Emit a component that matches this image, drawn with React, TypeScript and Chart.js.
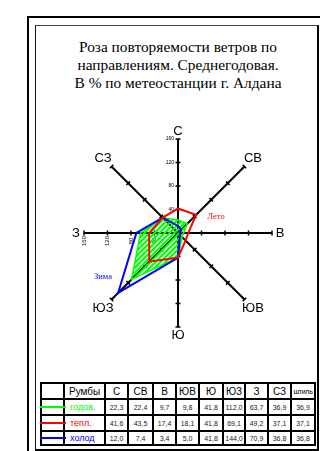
import React, { useEffect, useRef } from 'react';
import { Chart, registerables } from 'chart.js';

Chart.register(...registerables);

// ---- data ----
const directions = ['С', 'СВ', 'В', 'ЮВ', 'Ю', 'ЮЗ', 'З', 'СЗ'];
const yearly = [22.3, 22.4, 9.7, 9.8, 41.8, 112.0, 63.7, 36.9];
const warm = [41.6, 43.5, 17.4, 18.1, 41.8, 69.1, 49.2, 37.1];
const cold = [12.0, 7.4, 3.4, 5.0, 41.8, 144.0, 70.9, 36.8];
const calm = [36.9, 37.1, 36.8];
const seriesNames = ['годов.', 'тепл.', 'холод'];
const tickValues = [40, 80, 120, 160];
const titleLines = [
  'Роза повторяемости ветров по',
  'направлениям. Среднегодовая.',
  'В % по метеостанции г. Алдана',
];

// ---- styles ----
const GREEN = '#00ff00';
const RED = '#ff0000';
const BLUE = '#0000ff';
const seriesColors = [GREEN, RED, BLUE];
const SANS = '"Liberation Sans", Arial, sans-serif';
const SERIF = '"Liberation Serif", "Times New Roman", serif';

const colX = [40, 63, 104, 127, 152, 175, 198, 222, 244, 267, 290, 314];
const rowY = [382, 398, 414, 430, 444];

const fmt = (v: number) => v.toFixed(1).replace('.', ',');

function makeHatch(ctx: CanvasRenderingContext2D): CanvasPattern | string {
  const c = document.createElement('canvas');
  const n = 5;
  c.width = n;
  c.height = n;
  const g = c.getContext('2d');
  if (!g) return GREEN;
  g.fillStyle = GREEN;
  g.fillRect(0, 0, n, n);
  g.globalCompositeOperation = 'destination-out';
  g.strokeStyle = '#000';
  g.lineWidth = 1.3;
  g.beginPath();
  g.moveTo(-1, n + 1);
  g.lineTo(n + 1, -1);
  g.moveTo(-1, 1);
  g.lineTo(1, -1);
  g.moveTo(n - 1, n + 1);
  g.lineTo(n + 1, n - 1);
  g.stroke();
  return ctx.createPattern(c, 'repeat') || GREEN;
}

const roseDecor = {
  id: 'roseDecor',
  beforeDatasetsDraw(chart: any) {
    const s = chart.scales.r;
    const ctx: CanvasRenderingContext2D = chart.ctx;
    ctx.save();
    ctx.strokeStyle = '#000';
    ctx.lineCap = 'butt';
    for (let i = 0; i < directions.length; i++) {
      const end = s.getPointPositionForValue(i, s.max);
      ctx.lineWidth = 2;
      ctx.beginPath();
      ctx.moveTo(s.xCenter, s.yCenter);
      ctx.lineTo(end.x, end.y);
      ctx.stroke();
      ctx.lineWidth = 1.5;
      for (const v of tickValues) {
        const p = s.getPointPositionForValue(i, v);
        const px = -Math.sin(p.angle);
        const py = Math.cos(p.angle);
        ctx.beginPath();
        ctx.moveTo(p.x - px * 2.5, p.y - py * 2.5);
        ctx.lineTo(p.x + px * 2.5, p.y + py * 2.5);
        ctx.stroke();
      }
    }
    // tick labels on north axis (horizontal) and west axis (rotated)
    ctx.fillStyle = '#000';
    ctx.font = `5px ${SANS}`;
    for (const v of tickValues) {
      const p = s.getPointPositionForValue(0, v);
      ctx.textAlign = 'right';
      ctx.textBaseline = 'middle';
      ctx.fillText(String(v), p.x - 4, p.y);
    }
    ctx.font = `6px ${SANS}`;
    for (const v of tickValues) {
      const p = s.getPointPositionForValue(6, v);
      ctx.save();
      ctx.translate(p.x, p.y + 8);
      ctx.rotate(-Math.PI / 2);
      ctx.textAlign = 'center';
      ctx.textBaseline = 'middle';
      ctx.fillText(String(v), 0, 0);
      ctx.restore();
    }
    ctx.restore();
  },
  afterDraw(chart: any) {
    const s = chart.scales.r;
    const ctx: CanvasRenderingContext2D = chart.ctx;
    ctx.save();
    ctx.fillStyle = '#000';
    ctx.font = `13px ${SANS}`;
    ctx.textAlign = 'center';
    ctx.textBaseline = 'middle';
    directions.forEach((d, i) => {
      const p = s.getPointPosition(i, s.drawingArea + (i % 2 === 0 ? 8 : 12));
      ctx.fillText(d, p.x, p.y);
    });
    ctx.font = `8.5px ${SERIF}`;
    ctx.fillStyle = RED;
    ctx.fillText('Лето', s.xCenter + 38, s.yCenter - 16);
    ctx.fillStyle = BLUE;
    ctx.fillText('Зима', s.xCenter - 75, s.yCenter + 44);
    ctx.restore();
  },
};

export default function App() {
  const ref = useRef<HTMLCanvasElement>(null);

  useEffect(() => {
    const canvas = ref.current;
    if (!canvas) return;
    const ctx = canvas.getContext('2d');
    if (!ctx) return;
    const hatch = makeHatch(ctx);
    const chart = new Chart(ctx, {
      type: 'radar',
      data: {
        labels: directions,
        datasets: [
          {
            label: seriesNames[0],
            data: yearly,
            borderColor: GREEN,
            borderWidth: 1.5,
            backgroundColor: hatch as any,
            fill: true,
            pointRadius: 0,
            order: 3,
          },
          {
            label: seriesNames[1],
            data: warm,
            borderColor: RED,
            borderWidth: 2,
            backgroundColor: 'transparent',
            fill: false,
            pointRadius: 0,
            order: 1,
          },
          {
            label: seriesNames[2],
            data: cold,
            borderColor: BLUE,
            borderWidth: 2,
            backgroundColor: 'transparent',
            fill: false,
            pointRadius: 0,
            order: 2,
          },
        ],
      },
      options: {
        responsive: false,
        maintainAspectRatio: false,
        animation: false,
        devicePixelRatio: 1,
        layout: { padding: { left: 84, top: 139, right: 48, bottom: 124 } },
        plugins: {
          legend: { display: false },
          tooltip: { enabled: false },
          title: { display: false },
        },
        elements: { line: { tension: 0, borderJoinStyle: 'miter' } },
        scales: {
          r: {
            min: 0,
            max: 160,
            ticks: { display: false, stepSize: 40 },
            grid: { display: false },
            angleLines: { display: false },
            pointLabels: { display: false },
          },
        },
      },
      plugins: [roseDecor],
    });
    return () => chart.destroy();
  }, []);

  const rows: { cells: string[]; color?: string; isHeader?: boolean }[] = [
    { cells: ['', 'Румбы', ...directions, 'штиль'], isHeader: true },
    { cells: ['', seriesNames[0], ...yearly.map(fmt), fmt(calm[0])], color: seriesColors[0] },
    { cells: ['', seriesNames[1], ...warm.map(fmt), fmt(calm[1])], color: seriesColors[1] },
    { cells: ['', seriesNames[2], ...cold.map(fmt), fmt(calm[2])], color: seriesColors[2] },
  ];

  return (
    <div
      style={{
        position: 'fixed',
        left: 0,
        top: 0,
        width: 320,
        height: 451,
        background: '#fff',
        overflow: 'hidden',
      }}
    >
      <div
        style={{
          position: 'absolute',
          left: 27,
          top: 16,
          width: 400,
          height: 500,
          border: '2px solid #000',
        }}
      />
      <div
        style={{
          position: 'absolute',
          left: 35,
          top: 25,
          width: 284,
          height: 426,
          boxSizing: 'border-box',
          borderLeft: '1px solid #111',
          borderTop: '1px solid #444',
          borderRight: '2px solid #000',
          borderBottom: '2px solid #000',
        }}
      />
      <div
        style={{
          position: 'absolute',
          left: 36,
          top: 38,
          width: 284,
          textAlign: 'center',
          fontFamily: SERIF,
          fontSize: 15.4,
          lineHeight: '18px',
          color: '#000',
          whiteSpace: 'nowrap',
        }}
      >
        {titleLines.map((t, i) => (
          <div key={i}>{t}</div>
        ))}
      </div>

      {rows.map((row, r) =>
        row.cells.map((txt, c) => {
          const left = colX[c];
          const top = rowY[r];
          const w = colX[c + 1] - colX[c] + 2;
          const h = rowY[r + 1] - rowY[r] + 2;
          let fontSize = 7;
          let color = '#222';
          let justify: 'center' | 'flex-start' = 'center';
          let pad = 0;
          if (row.isHeader) {
            fontSize = c === 10 ? 7 : 10;
            color = '#000';
            if (c === 1) {
              justify = 'flex-start';
              pad = 4;
            }
          } else if (c === 1) {
            fontSize = 9;
            color = row.color || '#000';
            justify = 'flex-start';
            pad = 5;
          }
          return (
            <div
              key={`${r}-${c}`}
              style={{
                position: 'absolute',
                left,
                top,
                width: w,
                height: h,
                boxSizing: 'border-box',
                border: '2px solid #000',
                display: 'flex',
                alignItems: 'center',
                justifyContent: justify,
                paddingLeft: pad,
                fontFamily: SANS,
                fontSize,
                color,
                whiteSpace: 'nowrap',
                overflow: 'visible',
                letterSpacing: row.isHeader && c === 10 ? '-0.3px' : undefined,
              }}
            >
              {txt}
            </div>
          );
        })
      )}
      {rows.slice(1).map((row, k) => (
        <div
          key={`leg-${k}`}
          style={{
            position: 'absolute',
            left: colX[0],
            top: (rowY[k + 1] + rowY[k + 2]) / 2,
            width: colX[1] - colX[0] + 3,
            height: 2,
            background: row.color,
          }}
        />
      ))}

      <canvas
        ref={ref}
        width={320}
        height={451}
        style={{ position: 'absolute', left: 0, top: 0, width: 320, height: 451 }}
      />
    </div>
  );
}
